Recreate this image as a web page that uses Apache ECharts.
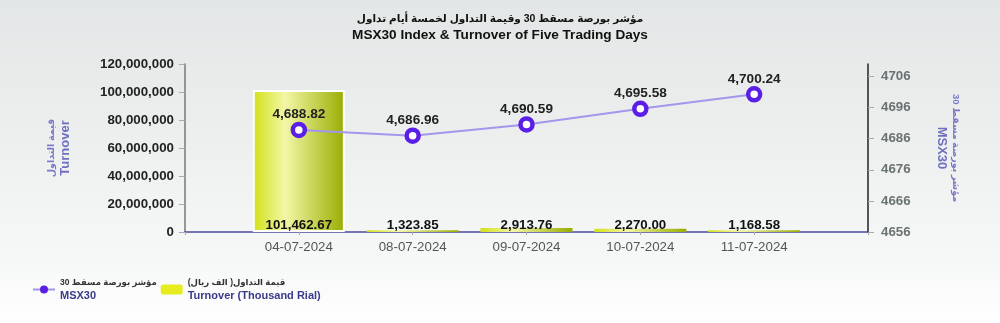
<!DOCTYPE html>
<html>
<head>
<meta charset="utf-8">
<script src="https://cdn.jsdelivr.net/npm/echarts@6/dist/echarts.min.js"></script>
<style>
  html, body { margin: 0; padding: 0; }
  #main { width: 1000px; height: 323px; }
</style>
</head>
<body>
<div id="main"></div>
<script>
// dates (blank slots at both ends keep the margins of the original)
var dates = ['', '04-07-2024', '08-07-2024', '09-07-2024', '10-07-2024', '11-07-2024', ''];
// turnover in thousand rial, as printed on the bars
var turnover = [null, 101462.67, 1323.85, 2913.76, 2270.00, 1168.58, null];
// MSX30 index closing values
var msx30 = [null, 4688.82, 4686.96, 4690.59, 4695.58, 4700.24, null];
var leftTicks = [0, 120000000, 20000000];
var rightTicks = [4656, 4710, 10];

var chart = echarts.init(document.getElementById('main'));

function fmt(v, d) {
  return Number(v).toLocaleString('en-US', {minimumFractionDigits: d, maximumFractionDigits: d});
}

var nameRich = {
  ar: {fontSize: 9.5, fontWeight: 'bold', color: '#7a7ac8', lineHeight: 14},
  en: {fontSize: 13, fontWeight: 'bold', color: '#7070c0', lineHeight: 15}
};

chart.setOption({
  backgroundColor: {
    type: 'linear', x: 0, y: 0, x2: 0, y2: 1,
    colorStops: [{offset: 0, color: '#e3e6e6'}, {offset: 0.8, color: '#f6f7f7'}, {offset: 1, color: '#ffffff'}]
  },
  textStyle: {fontFamily: 'Liberation Sans, DejaVu Sans, sans-serif'},
  title: {
    text: '{ar|مؤشر بورصة مسقط 30 وقيمة التداول لخمسة أيام تداول}\n{en|MSX30 Index & Turnover of Five Trading Days}',
    left: 'center', top: 6,
    textStyle: {
      rich: {
        ar: {fontSize: 10.5, fontWeight: 'bold', color: '#111', lineHeight: 16, align: 'center'},
        en: {fontSize: 13.6, fontWeight: 'bold', color: '#111', lineHeight: 17, align: 'center'}
      }
    }
  },
  legend: {
    left: 27, top: 273, itemGap: 4, itemWidth: 22, itemHeight: 10,
    data: [
      {name: 'MSX30', itemStyle: {color: '#5a1ee6', borderWidth: 0}},
      {name: 'Turnover', itemStyle: {color: '#e6ec1e', borderWidth: 0}}
    ],
    formatter: function (name) {
      if (name === 'MSX30') return '{ar|مؤشر بورصة مسقط 30}\n{en|MSX30}';
      return '{ar|قيمة التداول( الف ريال)}\n{en|Turnover (Thousand Rial)}';
    },
    textStyle: {
      rich: {
        ar: {fontSize: 8.5, fontWeight: 'bold', color: '#333', lineHeight: 13},
        en: {fontSize: 11, fontWeight: 'bold', color: '#3a3a8a', lineHeight: 14}
      }
    }
  },
  grid: {left: 185, right: 132, top: 64, bottom: 91},
  xAxis: {
    type: 'category', data: dates, boundaryGap: false,
    axisLine: {lineStyle: {color: '#4a4aa0', width: 1.5}},
    axisTick: {show: true, length: 3, lineStyle: {color: '#aaa'}},
    axisLabel: {color: '#555', fontSize: 13.3, margin: 9, interval: 0}
  },
  yAxis: [{
    type: 'value', min: leftTicks[0], max: leftTicks[1], interval: leftTicks[2],
    name: '{ar|قيمة التداول}\n{en|Turnover}', nameLocation: 'middle', nameRotate: 90, nameGap: 112,
    nameTextStyle: {rich: nameRich},
    axisLine: {show: true, lineStyle: {color: '#777', width: 1.5}},
    axisTick: {show: true, length: 6, lineStyle: {color: '#aaa'}},
    axisLabel: {color: '#222', fontSize: 13.3, fontWeight: 'bold', margin: 11,
      formatter: function (v) { return fmt(v, 0); }},
    splitLine: {show: false}
  }, {
    type: 'value', min: rightTicks[0], max: rightTicks[1], interval: rightTicks[2],
    name: '{ar|مؤشر بورصة مسقط 30}\n{en|MSX30}', nameLocation: 'middle', nameRotate: -90, nameGap: 66,
    nameTextStyle: {rich: nameRich},
    axisLine: {show: true, lineStyle: {color: '#222', width: 1.5}},
    axisTick: {show: true, length: 6, lineStyle: {color: '#aaa'}},
    axisLabel: {color: '#6a7272', fontSize: 13.3, fontWeight: 'bold', margin: 13, showMaxLabel: false,
      formatter: function (v) { return String(v); }},
    splitLine: {show: false}
  }],
  series: [{
    name: 'Turnover', type: 'bar', yAxisIndex: 0, barWidth: 92,
    // thousand rial -> rial for the left axis; only a tall bar gets the white rim
    data: turnover.map(function (v) {
      if (v == null) return null;
      return {value: v * 1000, itemStyle: {borderWidth: v > 10000 ? 2 : 0}};
    }),
    itemStyle: {
      borderColor: '#ffffff',
      color: {
        type: 'linear', x: 0, y: 0, x2: 1, y2: 0,
        colorStops: [{offset: 0, color: '#d2e016'}, {offset: 0.35, color: '#f3f7a6'}, {offset: 1, color: '#98ad00'}]
      }
    },
    label: {
      show: true, position: 'insideBottom', distance: 0,
      color: '#111', fontSize: 13.3, fontWeight: 'bold',
      formatter: function (p) { return fmt(p.value / 1000, 2); }
    },
    z: 1
  }, {
    name: 'MSX30', type: 'line', yAxisIndex: 1, data: msx30,
    symbol: 'circle', symbolSize: 12,
    lineStyle: {color: '#a396ec', width: 2},
    itemStyle: {color: '#ffffff', borderColor: '#5a1ee6', borderWidth: 4.5},
    label: {
      show: true, position: 'top', distance: 0,
      color: '#222', fontSize: 13.6, fontWeight: 'bold',
      formatter: function (p) { return fmt(p.value, 2); }
    },
    z: 3
  }]
});
</script>
</body>
</html>
